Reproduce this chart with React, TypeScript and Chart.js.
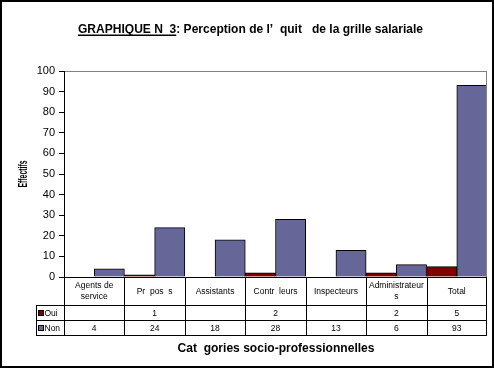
import React, { useEffect, useRef } from "react";
import { Chart, registerables } from "chart.js";

Chart.register(...registerables);

const categories: string[][] = [
  ["Agents de", "service"],
  ["Pr  pos  s"],
  ["Assistants"],
  ["Contr  leurs"],
  ["Inspecteurs"],
  ["Administrateur", "s"],
  ["Total"],
];
const ouiValues: (number | null)[] = [null, 1, null, 2, null, 2, 5];
const nonValues: number[] = [4, 24, 18, 28, 13, 6, 93];
const seriesNames = ["Oui", "Non"];
const yMin = 0;
const yMax = 100;
const yStep = 10;
const titleMain = "GRAPHIQUE N  3";
const titleRest = ": Perception de l’  quit   de la grille salariale";
const xTitle = "Cat  gories socio-professionnelles";
const yTitle = "Effectifs";

const FONT = "'Liberation Sans', Arial, sans-serif";
const OUI_COLOR = "#800000";
const NON_COLOR = "#666699";

const overlayPlugin = {
  id: "overlay",
  afterDraw(chart: any) {
    const ctx = chart.ctx as CanvasRenderingContext2D;
    const ca = chart.chartArea;
    const xs = chart.scales.x;
    const n = categories.length;
    const cw = (ca.right - ca.left) / n;
    ctx.save();

    // plot area frame (gray top/right)
    ctx.lineWidth = 1;
    ctx.strokeStyle = "#808080";
    ctx.beginPath();
    ctx.moveTo(ca.left, ca.top + 0.5);
    ctx.lineTo(ca.right, ca.top + 0.5);
    ctx.moveTo(ca.right - 0.5, ca.top);
    ctx.lineTo(ca.right - 0.5, ca.bottom);
    ctx.stroke();

    // table
    const r0 = Math.round(ca.bottom);
    const r1 = r0 + 28;
    const r2 = r1 + 15;
    const r3 = r2 + 15;
    const legLeft = 36;
    ctx.strokeStyle = "#000";
    ctx.beginPath();
    ctx.moveTo(ca.left, r0 + 0.5);
    ctx.lineTo(ca.right, r0 + 0.5);
    [r1, r2, r3].forEach((r) => {
      ctx.moveTo(legLeft, r + 0.5);
      ctx.lineTo(ca.right, r + 0.5);
    });
    ctx.moveTo(legLeft + 0.5, r1);
    ctx.lineTo(legLeft + 0.5, r3 + 1);
    for (let i = 0; i <= n; i++) {
      const x = Math.round(ca.left + i * cw) - (i === n ? 0.5 : -0.5);
      ctx.moveTo(x, r0);
      ctx.lineTo(x, r3 + 1);
    }
    ctx.moveTo(ca.left + 0.5, ca.top);
    ctx.lineTo(ca.left + 0.5, r0);
    ctx.stroke();

    // category labels
    ctx.fillStyle = "#000";
    ctx.font = `8.5px ${FONT}`;
    ctx.textAlign = "center";
    ctx.textBaseline = "middle";
    categories.forEach((lines, i) => {
      const cx = xs.getPixelForValue(i);
      const mid = (r0 + r1) / 2 + 0.5;
      const lh = 11;
      lines.forEach((ln, j) => {
        const y = mid + (j - (lines.length - 1) / 2) * lh;
        ctx.fillText(ln, cx, y);
      });
      const o = ouiValues[i];
      if (o !== null) ctx.fillText(String(o), cx, (r1 + r2) / 2 + 1);
      ctx.fillText(String(nonValues[i]), cx, (r2 + r3) / 2 + 1);
    });

    // legend keys
    const keys = [
      { name: seriesNames[0], color: OUI_COLOR, y: (r1 + r2) / 2 },
      { name: seriesNames[1], color: NON_COLOR, y: (r2 + r3) / 2 },
    ];
    keys.forEach((k) => {
      const top = Math.round(k.y - 2);
      ctx.fillStyle = k.color;
      ctx.fillRect(39, top, 4, 4);
      ctx.strokeStyle = "#000";
      ctx.strokeRect(38.5, top - 0.5, 5, 5);
      ctx.fillStyle = "#000";
      ctx.textAlign = "left";
      ctx.fillText(k.name, 44.5, k.y + 1);
    });

    // title
    ctx.font = `bold 12.5px ${FONT}`;
    ctx.textBaseline = "alphabetic";
    ctx.textAlign = "left";
    const full = titleMain + titleRest;
    const targetW = 345;
    const w = ctx.measureText(full).width;
    const sc = targetW / w;
    const tx = 78;
    const ty = 33;
    ctx.save();
    ctx.translate(tx, ty);
    ctx.scale(sc, 1);
    ctx.fillText(full, 0, 0);
    const wm = ctx.measureText(titleMain).width;
    ctx.fillRect(0, 1.5, wm, 1.5);
    ctx.restore();

    // x title
    ctx.font = `bold 13px ${FONT}`;
    ctx.textAlign = "center";
    ctx.textBaseline = "middle";
    ctx.fillText(xTitle, 276, 348, 197);

    // y title
    ctx.save();
    ctx.translate(24, 174);
    ctx.rotate(-Math.PI / 2);
    ctx.font = `bold 12px ${FONT}`;
    ctx.fillText(yTitle, 0, 0, 27);
    ctx.restore();

    // outer border
    ctx.lineWidth = 2;
    ctx.strokeStyle = "#000";
    ctx.strokeRect(1, 1, 492, 366);
    ctx.restore();
  },
};

export default function App() {
  const ref = useRef<HTMLCanvasElement>(null);
  useEffect(() => {
    if (!ref.current) return;
    const chart = new Chart(ref.current, {
      type: "bar",
      data: {
        labels: categories.map((c) => c.join(" ")),
        datasets: [
          {
            label: seriesNames[0],
            data: ouiValues,
            backgroundColor: OUI_COLOR,
            borderColor: "#000",
            borderWidth: 1,
            categoryPercentage: 1,
            barPercentage: 1,
          },
          {
            label: seriesNames[1],
            data: nonValues,
            backgroundColor: NON_COLOR,
            borderColor: "#000",
            borderWidth: 1,
            categoryPercentage: 1,
            barPercentage: 1,
          },
        ],
      },
      options: {
        responsive: false,
        animation: false,
        devicePixelRatio: 1,
        layout: { padding: { left: 0, top: 71, right: 7, bottom: 91 } },
        plugins: {
          legend: { display: false },
          title: { display: false },
          tooltip: { enabled: false },
        },
        scales: {
          x: { display: false },
          y: {
            min: yMin,
            max: yMax,
            afterFit: (s: any) => {
              s.width = 64;
            },
            ticks: {
              stepSize: yStep,
              padding: 4,
              color: "#000",
              font: { family: FONT, size: 11 },
            },
            grid: {
              drawOnChartArea: false,
              drawTicks: true,
              tickLength: 5,
              color: "#000",
            },
            border: { display: true, color: "#000" },
          },
        },
      },
      plugins: [overlayPlugin],
    });
    return () => chart.destroy();
  }, []);
  return (
    <div style={{ position: "absolute", left: 0, top: 0, width: 494, height: 368, background: "#fff" }}>
      <canvas ref={ref} width={494} height={368} />
    </div>
  );
}
